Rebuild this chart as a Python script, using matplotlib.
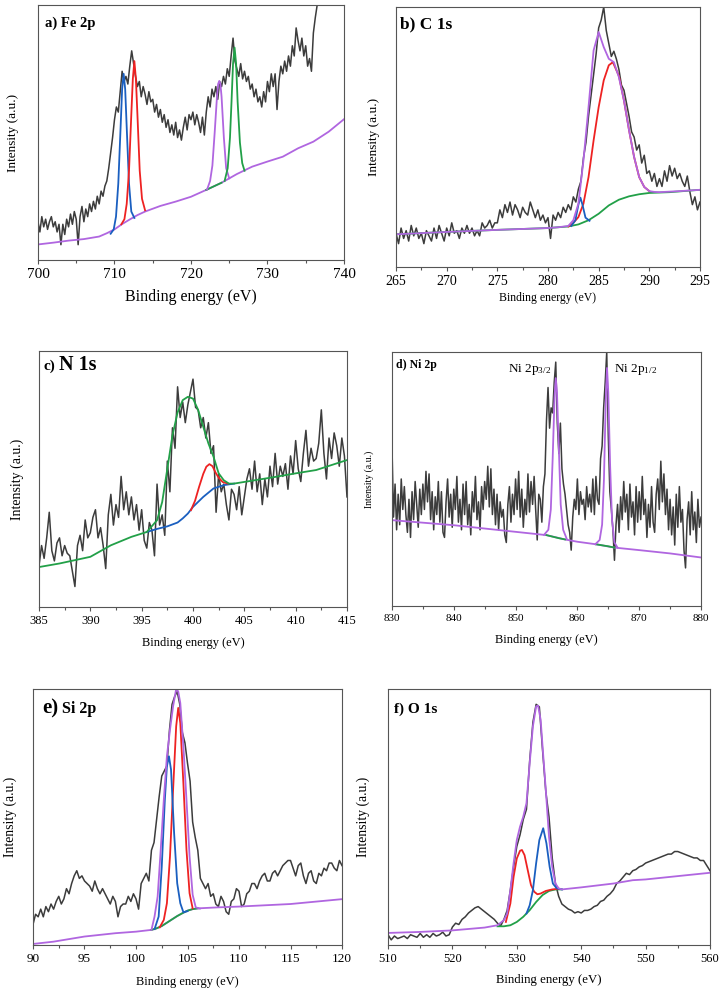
import numpy as np
import matplotlib.pyplot as plt
from matplotlib.ticker import MultipleLocator

plt.rcParams['font.family'] = ['Liberation Serif', 'DejaVu Serif']
plt.rcParams['mathtext.fontset'] = 'custom'
plt.rcParams['mathtext.rm'] = 'Liberation Serif'
plt.rcParams['mathtext.it'] = 'Liberation Serif:italic'

RAW = '#3c3c3c'
PUR = '#b066e0'
RED = '#ee2222'
BLU = '#1a5fc0'
GRN = '#22a048'

# ---------------- a) Fe 2p ----------------
A_RAW = [15, 11, 17, 13, 16, 12, 15, 17, 13, 15, 11, 14, 6, 14, 10, 16,
         13, 18, 14, 19, 16, 6, 17, 21, 15, 20, 17, 22, 19, 23, 20, 25,
         22, 27, 25, 29, 31, 36, 42, 48, 55, 60, 58, 66, 74, 70, 72, 69,
         76, 82, 77, 72, 68, 70, 64, 68, 65, 61, 66, 62, 63, 58, 61, 56,
         59, 54, 57, 52, 55, 50, 53, 49, 54, 48, 51, 47, 52, 56, 51, 57,
         55, 58, 53, 57, 54, 50, 56, 49, 58, 64, 60, 67, 64, 68, 63, 70,
         68, 72, 69, 75, 72, 80, 87, 78, 75, 72, 77, 71, 74, 70, 72, 67,
         69, 64, 67, 62, 64, 60, 66, 62, 70, 66, 73, 68, 73, 59, 70, 76,
         73, 78, 74, 80, 76, 84, 80, 91, 86, 82, 87, 80, 84, 76, 79, 74,
         89, 95, 100, 104, 102, 106, 104, 108, 105, 110, 108, 112,
         110, 112, 113, 115, 115]
A_BG_X = [700, 702, 704, 706, 708, 709, 710, 711, 712, 713, 714, 716, 718,
          720, 722, 724, 726, 728, 730, 732, 734, 736, 738, 740]
A_BG_Y = [6.1, 6.8, 7.6, 8.2, 9.2, 10.5, 12.0, 14.1, 15.9, 17.6, 19.0, 21.2,
          22.9, 24.8, 27.5, 30.3, 33.7, 36.6, 38.6, 40.5, 43.8, 46.4, 50.3, 55.2]
A_BLUE_X = [709.5, 709.9, 710.2, 710.5, 710.8, 711.0, 711.2, 711.4, 711.6, 711.9, 712.2, 712.6]
A_BLUE_Y = [10.3, 12, 17, 30, 52, 67, 73, 67, 52, 30, 19, 16.5]
A_RED_X = [710.9, 711.3, 711.6, 711.9, 712.2, 712.4, 712.6, 712.8, 713.0, 713.3, 713.6, 714.0]
A_RED_Y = [14, 16, 22, 35, 57, 71, 78, 71, 57, 35, 24, 19.5]
A_PUR_X = [722.1, 722.5, 722.8, 723.1, 723.4, 723.55, 723.7, 723.85, 724.0, 724.3, 724.6, 725.0]
A_PUR_Y = [27.6, 31, 37, 50, 64, 69, 70.2, 69, 64, 48, 36, 32]
A_GRN_X = [724.4, 724.8, 725.1, 725.3, 725.5, 725.7, 725.9, 726.1, 726.4, 726.7, 727.0]
A_GRN_Y = [31, 36, 48, 62, 77, 83.3, 77, 62, 46, 38, 35]

# ---------------- b) C 1s ----------------
B_RAW = [13, 9, 15, 11, 14, 10, 16, 12, 15, 11, 13, 9, 14, 12, 10, 15,
         11, 16, 13, 10, 15, 12, 17, 13, 14, 11, 15, 13, 16, 13, 15, 12,
         14, 12, 17, 15, 16, 18, 15, 17, 17, 22, 19, 24, 21, 25, 20, 24,
         22, 19, 23, 21, 20, 25, 22, 19, 22, 18, 20, 17, 19, 11, 20, 18,
         21, 19, 23, 21, 24, 22, 27, 25, 30, 33, 42, 48, 58, 66, 74, 82,
         92, 95, 100, 91, 86, 81, 83, 80, 76, 70, 68, 63, 58, 52, 50, 45,
         47, 40, 43, 36, 37, 33, 36, 31, 34, 31, 37, 33, 39, 35, 38, 34,
         36, 33, 31, 35, 29, 24, 27, 22, 25]
B_ENV_X = [265, 270, 275, 280, 281, 282, 282.5, 283, 283.5, 284, 284.5, 285,
           285.5, 286, 286.5, 287, 287.5, 288, 288.5, 289, 289.5, 290, 290.5,
           291, 293, 295]
B_ENV_Y = [12.6, 13.5, 14.3, 15.0, 15.3, 15.8, 18, 24.4, 41, 61.5, 83.3, 90.4,
           84.6, 80.1, 78.8, 73, 64, 52.6, 42.3, 34.6, 30.8, 29.2, 28.9, 28.8,
           29.2, 29.7]
B_BG_X = [265, 270, 275, 280, 282, 283, 284, 285, 286, 287, 288, 289, 290, 292, 295]
B_BG_Y = [12.6, 13.5, 14.3, 15.0, 15.6, 16.4, 18, 20.5, 23.7, 25.9, 27.2, 28.0,
          28.5, 28.8, 29.7]
B_RED_X = [282, 282.5, 283, 283.5, 284, 284.5, 285, 285.5, 286, 286.4, 287,
           287.5, 288, 288.5, 289, 289.5, 290]
B_RED_Y = [15.6, 17, 19.2, 24.4, 34.6, 48.7, 61.5, 71.8, 77.6, 78.8, 73.5, 64,
           52.6, 42.3, 34.6, 30.8, 29.2]
B_BLUE_X = [282.3, 282.7, 283.0, 283.2, 283.4, 283.7, 284.1]
B_BLUE_Y = [15.8, 18, 24, 26.7, 24, 19, 17.8]

# ---------------- c) N 1s ----------------
C_RAW = [16, 24, 19, 27, 37, 22, 18, 25, 27, 20, 24, 21, 20, 14, 8, 24,
         28, 22, 34, 27, 29, 35, 38, 27, 31, 24, 15, 36, 44, 32, 40, 35,
         51, 38, 45, 36, 43, 34, 40, 30, 38, 26, 23, 33, 30, 20, 48, 32,
         36, 28, 57, 45, 70, 62, 86, 74, 80, 72, 79, 84, 89, 78, 77, 70,
         74, 66, 72, 60, 63, 37, 52, 45, 48, 40, 34, 46, 44, 38, 47, 36,
         43, 50, 54, 46, 57, 45, 52, 40, 50, 43, 55, 47, 60, 48, 55, 51,
         56, 46, 59, 52, 65, 54, 49, 60, 69, 55, 62, 57, 58, 64, 77, 60,
         50, 66, 58, 68, 63, 55, 66, 59, 43]
C_ENV_X = [385, 387, 390, 392, 394, 395.5, 396.5, 397, 397.5, 398, 398.5, 399,
           399.5, 400, 400.5, 401, 401.5, 402, 402.5, 403, 403.5, 404, 406,
           408, 410, 412, 414, 415]
C_ENV_Y = [15.6, 17, 19.6, 24.1, 27.4, 29.3, 33.9, 41, 54, 67, 76, 80.8, 82.1,
           81.4, 77, 70.4, 63.9, 58.7, 52.2, 49.5, 48.2, 48.2, 49.5, 50.8, 52.2,
           53.5, 56.1, 57.4]
C_BG_X = [395.5, 396.5, 397.5, 398.5, 399, 399.5, 400, 401, 402, 403, 404]
C_BG_Y = [29.3, 30.5, 31.5, 33, 34.6, 36.5, 39.1, 43, 46.3, 47.6, 48.2]
C_RED_X = [399.8, 400.2, 400.6, 401.0, 401.3, 401.6, 401.9, 402.2, 402.5, 402.9, 403.4]
C_RED_Y = [37.8, 41.5, 47, 52, 54.8, 55.8, 55, 52.5, 50.5, 48.8, 48.2]

# ---------------- d) Ni 2p ----------------
D_RAW = [63, 35, 48, 30, 44, 32, 50, 38, 47, 36, 29, 42, 27, 45, 34, 49,
         40, 31, 46, 36, 48, 38, 53, 41, 52, 34, 45, 30, 43, 36, 49, 33,
         45, 29, 27, 41, 50, 35, 44, 31, 46, 38, 51, 33, 42, 30, 48, 36,
         49, 32, 40, 28, 45, 37, 51, 34, 41, 30, 47, 38, 49, 42, 55, 39,
         54, 36, 46, 32, 44, 30, 41, 35, 38, 28, 25, 40, 47, 33, 44, 36,
         50, 38, 53, 35, 46, 31, 42, 36, 52, 37, 49, 40, 51, 38, 26, 44,
         42, 33, 47, 52, 73, 86, 70, 78, 76, 88, 96, 72, 60, 72, 54, 48,
         44, 38, 32, 29, 22, 35, 42, 38, 50, 36, 45, 40, 42, 34, 47, 39,
         44, 37, 50, 36, 51, 42, 40, 58, 63, 78, 88, 100, 67, 45, 38, 30,
         18, 32, 40, 29, 43, 34, 49, 37, 44, 30, 48, 35, 41, 28, 47, 33,
         45, 34, 51, 36, 42, 27, 40, 31, 47, 33, 29, 44, 50, 38, 57, 41,
         52, 36, 46, 30, 42, 28, 39, 24, 44, 31, 47, 33, 38, 22, 15, 34,
         41, 28, 45, 30, 37, 25, 42, 31, 35]
D_BG_X = [830, 840, 850, 855, 858, 860, 863, 866, 870, 875, 880]
D_BG_Y = [33.8, 31.8, 29.2, 27.9, 26.2, 25.3, 24.3, 23.0, 22.0, 20.7, 19.1]
D_SEG1_X = [855, 856, 857, 858]
D_SEG1_Y = [27.9, 27.3, 26.7, 26.2]
D_SEG2_X = [863, 864, 865, 866]
D_SEG2_Y = [24.3, 23.9, 23.5, 23.0]
D_P1_X = [854.6, 855.3, 855.7, 856.0, 856.3, 856.5, 856.7, 857.0, 857.3, 857.7, 858.3]
D_P1_Y = [28, 30, 38, 58, 82, 89.7, 84, 62, 40, 30, 26.3]
D_P2_X = [862.9, 863.6, 864.0, 864.3, 864.6, 864.8, 865.0, 865.3, 865.6, 866.0, 866.5]
D_P2_Y = [24.3, 26, 32, 50, 82, 93.7, 84, 55, 34, 25, 23]

# ---------------- e) Si 2p ----------------
E_RAW = [8, 12, 11, 14, 11, 15, 13, 16, 14, 17, 19, 16, 18, 22, 20, 24,
         27, 29, 26, 27, 25, 24, 23, 21, 25, 22, 20, 22, 20, 18, 16, 19,
         17, 11, 15, 16, 16, 19, 17, 20, 18, 14, 24, 26, 28, 25, 37, 40,
         49, 58, 66, 68, 70, 84, 94, 97, 99, 94, 83, 79, 71, 64, 48, 42,
         37, 26, 24, 22, 24, 19, 20, 16, 15, 19, 17, 13, 12, 17, 18, 22,
         21, 15, 16, 20, 21, 24, 24, 22, 25, 27, 28, 25, 25, 28, 29, 27,
         29, 31, 32, 33, 33, 30, 27, 31, 32, 27, 24, 28, 29, 25, 24, 28,
         27, 30, 29, 32, 32, 30, 29, 33, 31]
E_BG_X = [90, 92, 95, 98, 100, 101.5, 102, 102.5, 103, 103.5, 104, 104.5, 105,
          105.5, 106, 108, 110, 115, 120]
E_BG_Y = [0.4, 1.3, 3.3, 4.6, 5.2, 5.9, 6.5, 7.4, 8.7, 10, 11.3, 12.4, 13.4,
          14.0, 14.3, 14.7, 15.0, 16.0, 17.9]
E_ENV_X = [101.5, 101.8, 102.1, 102.4, 102.7, 103.0, 103.3, 103.6, 103.9, 104.1,
           104.3, 104.6, 104.9, 105.2, 105.5, 105.8, 106.2]
E_ENV_Y = [5.9, 11.1, 18.9, 37.2, 56.7, 73.7, 84.1, 93.2, 100, 99, 94.5, 77.6,
           56.7, 34.6, 19.6, 14.7, 14.2]
E_RED_X = [102.3, 102.7, 103.0, 103.3, 103.6, 103.9, 104.1, 104.3, 104.6, 104.9, 105.2, 105.5]
E_RED_Y = [6.9, 9.8, 16.3, 34.6, 60.6, 85.4, 92.6, 86.7, 63.2, 37.2, 20.2, 14.3]
E_BLUE_X = [101.8, 102.2, 102.5, 102.8, 103.0, 103.2, 103.4, 103.7, 104.0, 104.3, 104.6, 105.0]
E_BLUE_Y = [6.2, 11.1, 30.6, 56.7, 69.8, 73.7, 68.5, 43.7, 24.1, 16.3, 12.8, 13.2]

# ---------------- f) O 1s ----------------
F_RAW = [4, 2, 3.5, 2.5, 3, 3.5, 2.5, 4, 3.5, 3, 4.5, 3, 4, 3, 4.5, 3.5,
         4, 5, 3.5, 4, 7, 8.5, 8, 10, 11, 12.5, 13.5, 14.5, 15, 14, 13, 12,
         11, 10, 8.5, 7.5, 10, 13.5, 21.5, 30.5, 38.5, 43, 49, 53, 72, 87,
         94, 93, 76, 60, 50, 34, 24, 19, 16, 15, 14, 13.5, 12.5, 13, 12.5,
         13.5, 13.5, 14, 15, 15.5, 17, 17.5, 19, 20, 21.5, 24, 25, 26.5, 28,
         27.5, 29, 29.5, 30.5, 31, 32, 32.5, 33, 33.5, 34, 34.5, 35, 35.5,
         35.5, 36.5, 36.5, 36, 35.5, 35, 34.5, 34, 34, 33, 33, 31, 29]
F_ENV_X = [510, 515, 520, 525, 527, 528, 528.5, 529, 529.5, 530, 530.5, 531,
           531.5, 532, 532.5, 533, 533.3, 533.7, 534, 534.5, 535, 535.5, 536,
           536.5, 537, 540, 545, 548, 550, 555, 560]
F_ENV_Y = [4.7, 5.1, 5.7, 6.8, 7.7, 9.7, 12.3, 21.4, 31.9, 41, 46.2, 50.1, 55.4,
           71, 85.4, 93.2, 93.5, 88, 77.5, 60.6, 42.3, 30.5, 24, 22.1, 21.7,
           22.5, 24, 25.3, 25.6, 26.9, 28.2]
F_RED_X = [528.3, 529, 529.5, 530, 530.5, 530.8, 531.2, 531.7, 532.2, 532.7,
           533.2, 533.7, 534.5, 535.5, 536.5]
F_RED_Y = [9, 16.2, 26.6, 33.8, 36.8, 37.1, 35.1, 29.2, 23.4, 20.8, 19.8, 20.1,
           21.1, 21.7, 21.9]
F_BLUE_X = [531.5, 532.0, 532.5, 533.0, 533.5, 534.1, 534.6, 535.1, 535.6, 536.2, 537]
F_BLUE_Y = [12.3, 15.5, 21.4, 31.9, 41, 45.6, 39.7, 30.5, 24, 22.1, 21.7]
F_BG_X = [527, 528, 529, 530, 531, 532, 533, 534, 535, 536, 537]
F_BG_Y = [7.3, 7.3, 7.7, 9, 11, 13.6, 16.8, 19.5, 21.1, 21.7, 21.7]


def raw_x(lo, hi, vals):
    return np.linspace(lo, hi, len(vals))


def setup(ax, xlim, major, tick_fs, label_fs, ylab_fs, xlab_y, ylab_x):
    ax.set_xlim(*xlim)
    ax.set_ylim(0, 100)
    ax.set_yticks([])
    ax.xaxis.set_major_locator(MultipleLocator(major))
    ax.xaxis.set_minor_locator(MultipleLocator(major / 2))
    ax.tick_params(axis='x', which='major', direction='out', length=3,
                   width=0.8, color='#555555', labelsize=tick_fs, pad=3)
    ax.tick_params(axis='x', which='minor', direction='out', length=2,
                   width=0.8, color='#555555')
    for s in ax.spines.values():
        s.set_color('#555555')
        s.set_linewidth(0.8)
    ax.set_xlabel('Binding energy (eV)', fontsize=label_fs, va='center')
    ax.xaxis.set_label_coords(0.5, xlab_y)
    ax.set_ylabel('Intensity (a.u.)', fontsize=ylab_fs, va='center')
    ax.yaxis.set_label_coords(ylab_x, 0.5)


fig = plt.figure(figsize=(7.22, 9.92), dpi=100)
LW_RAW = 1.1
LW_FIT = 1.3

# a)
ax = fig.add_axes([0.0526, 0.7379, 0.4238, 0.2571])
ax.plot(raw_x(700, 740, A_RAW), A_RAW, color=RAW, lw=LW_RAW)
ax.plot(A_BG_X, A_BG_Y, color=PUR, lw=LW_FIT)
ax.plot(A_BG_X[14:16], A_BG_Y[14:16], color=GRN, lw=LW_FIT)
ax.plot(A_BLUE_X, A_BLUE_Y, color=BLU, lw=LW_FIT)
ax.plot(A_RED_X, A_RED_Y, color=RED, lw=LW_FIT)
ax.plot(A_PUR_X, A_PUR_Y, color=PUR, lw=LW_FIT)
ax.plot(A_GRN_X, A_GRN_Y, color=GRN, lw=LW_FIT)
setup(ax, (700, 740), 10, 11, 11.5, 9.5, -0.145, -0.082)
ax.text(0.023, 0.914, 'a) Fe 2p', transform=ax.transAxes, fontsize=10.5,
        fontweight='bold', va='baseline')

# b)
ax = fig.add_axes([0.5485, 0.7308, 0.4210, 0.2621])
ax.plot(raw_x(265, 295, B_RAW), B_RAW, color=RAW, lw=LW_RAW)
ax.plot(B_BG_X, B_BG_Y, color=GRN, lw=LW_FIT)
ax.plot(B_RED_X, B_RED_Y, color=RED, lw=LW_FIT)
ax.plot(B_BLUE_X, B_BLUE_Y, color=BLU, lw=LW_FIT)
ax.plot(B_ENV_X, B_ENV_Y, color=PUR, lw=LW_FIT)
setup(ax, (265, 295), 5, 10, 8.5, 9.5, -0.119, -0.072)
ax.text(0.013, 0.919, 'b) C 1s', transform=ax.transAxes, fontsize=12.5,
        fontweight='bold', va='baseline')

# c)
ax = fig.add_axes([0.0540, 0.3881, 0.4266, 0.2581])
ax.plot(raw_x(385, 415, C_RAW), C_RAW, color=RAW, lw=LW_RAW)
ax.plot(C_BG_X, C_BG_Y, color=BLU, lw=LW_FIT)
ax.plot(C_RED_X, C_RED_Y, color=RED, lw=LW_FIT)
ax.plot(C_ENV_X, C_ENV_Y, color=GRN, lw=LW_FIT)
setup(ax, (385, 415), 5, 9, 9, 10, -0.141, -0.071)
ax.text(0.016, 0.926, 'c)', transform=ax.transAxes, fontsize=11,
        fontweight='bold', va='baseline')
ax.text(0.065, 0.926, 'N 1s', transform=ax.transAxes, fontsize=14.5,
        fontweight='bold', va='baseline')

# d)
ax = fig.add_axes([0.5429, 0.3891, 0.4280, 0.2561])
ax.plot(raw_x(830, 880, D_RAW), D_RAW, color=RAW, lw=LW_RAW)
ax.plot(D_BG_X, D_BG_Y, color=PUR, lw=LW_FIT)
ax.plot(D_SEG1_X, D_SEG1_Y, color=GRN, lw=LW_FIT)
ax.plot(D_SEG2_X, D_SEG2_Y, color=GRN, lw=LW_FIT)
ax.plot(D_P1_X, D_P1_Y, color=PUR, lw=LW_FIT)
ax.plot(D_P2_X, D_P2_Y, color=PUR, lw=LW_FIT)
setup(ax, (830, 880), 10, 8, 9, 7, -0.134, -0.074)
ax.text(0.013, 0.937, 'd) Ni 2p', transform=ax.transAxes, fontsize=8.5,
        fontweight='bold', va='baseline')
ax.text(0.375, 0.921, r'Ni 2p$_{3/2}$', transform=ax.transAxes, fontsize=9.5,
        va='baseline')
ax.text(0.718, 0.921, r'Ni 2p$_{1/2}$', transform=ax.transAxes, fontsize=9.5,
        va='baseline')

# e)
ax = fig.add_axes([0.0457, 0.0474, 0.4280, 0.2581])
ax.plot(raw_x(90, 120, E_RAW), E_RAW, color=RAW, lw=LW_RAW)
ax.plot(E_BG_X, E_BG_Y, color=PUR, lw=LW_FIT)
ax.plot(E_BG_X[5:15], E_BG_Y[5:15], color=GRN, lw=LW_FIT)
ax.plot(E_RED_X, E_RED_Y, color=RED, lw=LW_FIT)
ax.plot(E_BLUE_X, E_BLUE_Y, color=BLU, lw=LW_FIT)
ax.plot(E_ENV_X, E_ENV_Y, color=PUR, lw=LW_FIT)
setup(ax, (90, 120), 5, 9.5, 9, 9.8, -0.145, -0.074)
ax.text(0.03, 0.905, 'e)', transform=ax.transAxes, fontsize=15,
        fontweight='bold', va='baseline')
ax.text(0.094, 0.905, 'Si 2p', transform=ax.transAxes, fontsize=11.5,
        fontweight='bold', va='baseline')

# f)
ax = fig.add_axes([0.5374, 0.0474, 0.4460, 0.2581])
ax.plot(raw_x(510, 560, F_RAW), F_RAW, color=RAW, lw=LW_RAW)
ax.plot(F_BG_X, F_BG_Y, color=GRN, lw=LW_FIT)
ax.plot(F_RED_X, F_RED_Y, color=RED, lw=LW_FIT)
ax.plot(F_BLUE_X, F_BLUE_Y, color=BLU, lw=LW_FIT)
ax.plot(F_ENV_X, F_ENV_Y, color=PUR, lw=LW_FIT)
setup(ax, (510, 560), 10, 9, 9.2, 9.8, -0.137, -0.078)
ax.text(0.019, 0.906, 'f) O 1s', transform=ax.transAxes, fontsize=11,
        fontweight='bold', va='baseline')

fig.savefig('out.png', dpi=100)
